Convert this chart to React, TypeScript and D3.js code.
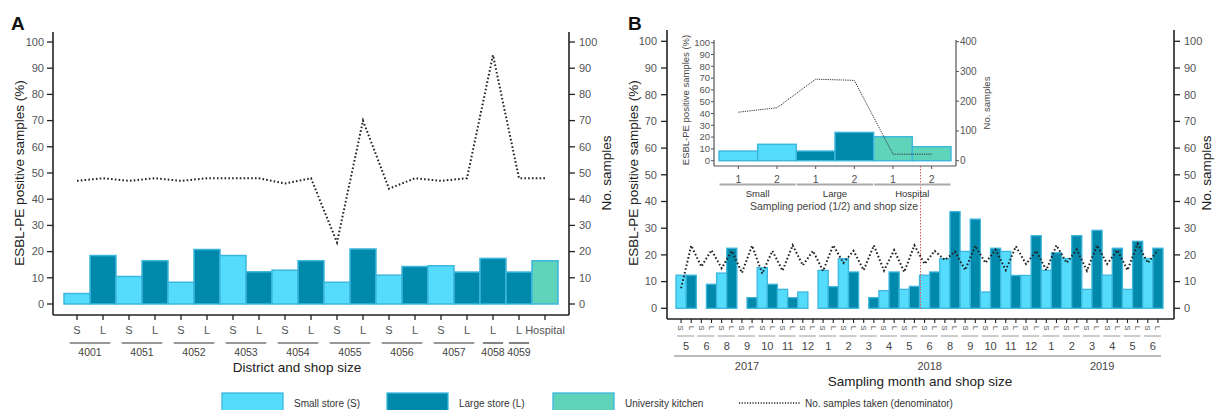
import React from "react";
import * as d3 from "d3";

const W = 1215;
const H = 410;
const FONT = "'Liberation Sans', Arial, Helvetica, sans-serif";

const LIGHT = "#55dcfd";
const DARK = "#0089ab";
const TEAL = "#5fd4bb";
const EDGE = "#3cb6dd";

// panel A: district and shop size
const aSizes = ["S", "L", "S", "L", "S", "L", "S", "L", "S", "L", "S", "L", "S", "L", "S", "L", "L", "L", "Hospital"];
const aDistricts = ["4001", "4001", "4051", "4051", "4052", "4052", "4053", "4053", "4054", "4054", "4055", "4055", "4056", "4056", "4057", "4057", "4058", "4059", ""];
const aPositive = [4, 18.5, 10.5, 16.5, 8.3, 20.8, 18.5, 12.3, 12.9, 16.5, 8.3, 21, 11, 14.3, 14.6, 12.2, 17.4, 12.2, 16.5];
const aSamples = [47, 48, 47, 48, 47, 48, 48, 48, 46, 48, 23.5, 70, 44, 48, 47, 48, 95, 48, 48];
const pctTicks = [0, 10, 20, 30, 40, 50, 60, 70, 80, 90, 100];

// panel B: sampling month, one S and one L per month
const bMonths = ["5", "6", "8", "9", "10", "11", "12", "1", "2", "3", "4", "5", "6", "8", "9", "10", "11", "12", "1", "2", "3", "4", "5", "6"];
const bYears = ["2017", "2017", "2017", "2017", "2017", "2017", "2017", "2018", "2018", "2018", "2018", "2018", "2018", "2018", "2018", "2018", "2018", "2018", "2019", "2019", "2019", "2019", "2019", "2019"];
const bSmall = [12.4, 0, 13.2, 0, 15.2, 7.1, 6.1, 14.2, 18.6, 0, 6.6, 7.1, 12.4, 18.6, 21.3, 6.1, 21.3, 12.3, 14.2, 18.6, 7.1, 12.4, 7.1, 18.6];
const bLarge = [12.4, 9, 22.5, 4, 9, 4, 0, 8.1, 13.6, 4, 13.6, 8.2, 13.6, 36.2, 33.4, 22.5, 12.3, 27.2, 20.8, 27.2, 29.2, 22.5, 25.1, 22.5];
const bSamples = [7.5, 23.5, 15.6, 21.8, 15, 21.5, 13.3, 23.5, 13, 21.5, 14.1, 23.6, 16.1, 21.5, 14, 23.6, 17, 21.5, 14.3, 23.6, 14.1, 21.8, 13.6, 23.6, 16.6, 21.5, 18.1, 21.2, 14.3, 23.4, 17, 22, 14.3, 23.2, 16.6, 21.5, 14.3, 23.6, 17, 22, 14.1, 23.6, 16.6, 21.8, 14.3, 24.2, 17, 21.8];

// inset: sampling period
const insetPeriods = ["1", "2", "1", "2", "1", "2"];
const insetGroups = ["Small", "Small", "Large", "Large", "Hospital", "Hospital"];
const insetPositive = [8.2, 13.9, 8.2, 24, 20.3, 11.9];
const insetSamples = [163, 178, 274, 270, 22, 22];
const insetSampleTicks = [0, 100, 200, 300, 400];

const runs = (arr: string[]) => {
  const out: { key: string; start: number; end: number }[] = [];
  arr.forEach((k, i) => {
    const last = out[out.length - 1];
    if (last && last.key === k) last.end = i;
    else out.push({ key: k, start: i, end: i });
  });
  return out;
};

const sizeColor = (s: string) => (s === "S" || s === "Small" ? LIGHT : s === "L" || s === "Large" ? DARK : TEAL);

const PanelA = () => {
  const x = d3.scaleBand<number>().domain(d3.range(aSizes.length)).range([64, 558]).padding(0);
  const y = d3.scaleLinear().domain([0, 100]).range([304, 42]);
  const y2 = d3.scaleLinear().domain([0, 100]).range([304, 42]);
  const bw = x.bandwidth();
  const line = d3.line<number>().x((d, i) => x(i)! + bw / 2).y((d) => y2(d));
  const left = 53, right = 569, bottom = 315, top = 32;
  return (
    <g>
      <text x={11} y={30} fontSize={19} fontWeight="bold" fill="#111">A</text>
      {aPositive.map((v, i) => (
        <rect key={i} x={x(i)} y={y(v)} width={bw} height={y(0) - y(v)} fill={sizeColor(aSizes[i])} stroke={EDGE} strokeWidth={1.5} />
      ))}
      <path d={line(aSamples) || ""} fill="none" stroke="#222" strokeWidth={2} strokeDasharray="1.6 2.2" />
      <line x1={left} x2={left} y1={top} y2={bottom} stroke="#222" strokeWidth={1.6} />
      <line x1={right} x2={right} y1={top} y2={bottom} stroke="#222" strokeWidth={1.6} />
      <line x1={left} x2={right} y1={bottom} y2={bottom} stroke="#222" strokeWidth={1.6} />
      {pctTicks.map((t) => (
        <g key={t}>
          <line x1={left - 6} x2={left} y1={y(t)} y2={y(t)} stroke="#222" strokeWidth={1.3} />
          <text x={left - 9} y={y(t)} dy="0.35em" textAnchor="end" fontSize={11} fill="#555">{t}</text>
          <line x1={right} x2={right + 6} y1={y2(t)} y2={y2(t)} stroke="#222" strokeWidth={1.3} />
          <text x={right + 10} y={y2(t)} dy="0.35em" fontSize={11} fill="#555">{t}</text>
        </g>
      ))}
      {aSizes.map((s, i) => (
        <g key={i}>
          <line x1={x(i)! + bw / 2} x2={x(i)! + bw / 2} y1={bottom} y2={bottom + 5} stroke="#222" strokeWidth={1.3} />
          <text x={x(i)! + bw / 2} y={330} dy="0.35em" textAnchor="middle" fontSize={11} fill="#555">{s}</text>
        </g>
      ))}
      {runs(aDistricts).filter((r) => r.key).map((r) => {
        const x0 = x(r.start)!, x1 = x(r.end)! + bw;
        const inset = (x1 - x0) * 0.11;
        return (
          <g key={r.key}>
            <line x1={x0 + inset} x2={x1 - inset} y1={343} y2={343} stroke="#333" strokeWidth={1.2} />
            <text x={(x0 + x1) / 2} y={352} dy="0.35em" textAnchor="middle" fontSize={10.5} fill="#444">{r.key}</text>
          </g>
        );
      })}
      <text x={297} y={367} dy="0.35em" textAnchor="middle" fontSize={13.5} fill="#222">District and shop size</text>
      <text transform="translate(19,173) rotate(-90)" dy="0.35em" textAnchor="middle" fontSize={13.5} fill="#222">ESBL-PE positive samples (%)</text>
      <text transform="translate(606,173) rotate(-90)" dy="0.35em" textAnchor="middle" fontSize={13.5} fill="#222">No. samples</text>
    </g>
  );
};

const Inset = () => {
  const x = d3.scaleBand<number>().domain(d3.range(insetPositive.length)).range([719, 951]).padding(0);
  const y = d3.scaleLinear().domain([0, 100]).range([160.7, 42.7]);
  const y2 = d3.scaleLinear().domain([0, 400]).range([160.7, 41.7]);
  const bw = x.bandwidth();
  const line = d3.line<number>().x((d, i) => x(i)! + bw / 2).y((d) => y2(d));
  const left = 714, right = 956, bottom = 166, top = 40;
  return (
    <g>
      {insetPositive.map((v, i) => (
        <rect key={i} x={x(i)} y={y(v)} width={bw} height={y(0) - y(v)} fill={sizeColor(insetGroups[i])} stroke={EDGE} strokeWidth={1.4} />
      ))}
      <path d={line(insetSamples) || ""} fill="none" stroke="#333" strokeWidth={1} strokeDasharray="1.2 1" />
      <line x1={left} x2={left} y1={top} y2={bottom} stroke="#555" strokeWidth={1.2} />
      <line x1={right} x2={right} y1={top} y2={bottom} stroke="#555" strokeWidth={1.2} />
      <line x1={left} x2={right} y1={bottom} y2={bottom} stroke="#555" strokeWidth={1.2} />
      {pctTicks.map((t) => (
        <g key={t}>
          <line x1={left - 3} x2={left} y1={y(t)} y2={y(t)} stroke="#555" />
          <text x={left - 4} y={y(t)} dy="0.35em" textAnchor="end" fontSize={9.5} fill="#555">{t}</text>
        </g>
      ))}
      {insetSampleTicks.map((t) => (
        <g key={t}>
          <line x1={right} x2={right + 3} y1={y2(t)} y2={y2(t)} stroke="#555" />
          <text x={right + 4} y={y2(t)} dy="0.35em" fontSize={10} fill="#555">{t}</text>
        </g>
      ))}
      {insetPeriods.map((p, i) => (
        <g key={i}>
          <line x1={x(i)! + bw / 2} x2={x(i)! + bw / 2} y1={bottom} y2={bottom + 3} stroke="#555" />
          <text x={x(i)! + bw / 2} y={179} dy="0.35em" textAnchor="middle" fontSize={10.5} fill="#555">{p}</text>
        </g>
      ))}
      {runs(insetGroups).map((r) => {
        const x0 = x(r.start)!, x1 = x(r.end)! + bw;
        return (
          <g key={r.key}>
            <line x1={x0 + 0.5} x2={x1 - 0.5} y1={184.5} y2={184.5} stroke="#aaa" strokeWidth={2.2} />
            <text x={(x0 + x1) / 2} y={194} dy="0.35em" textAnchor="middle" fontSize={9.5} fill="#333">{r.key}</text>
          </g>
        );
      })}
      <text x={834} y={206} dy="0.35em" textAnchor="middle" fontSize={10.5} fill="#444">Sampling period (1/2) and shop size</text>
      <text transform="translate(686,100) rotate(-90)" dy="0.35em" textAnchor="middle" fontSize={9.5} fill="#444">ESBL-PE positive samples (%)</text>
      <text transform="translate(987,103) rotate(-90)" dy="0.35em" textAnchor="middle" fontSize={9.5} fill="#444">No. samples</text>
    </g>
  );
};

const PanelB = () => {
  const sizes = bMonths.flatMap(() => ["S", "L"]);
  const values = bMonths.flatMap((m, i) => [bSmall[i], bLarge[i]]);
  const x = d3.scaleBand<number>().domain(d3.range(sizes.length)).range([676, 1163]).padding(0);
  const y = d3.scaleLinear().domain([0, 100]).range([308.3, 41.3]);
  const y2 = d3.scaleLinear().domain([0, 100]).range([308.3, 41.3]);
  const bw = x.bandwidth();
  const line = d3.line<number>().x((d, i) => x(i)! + bw / 2).y((d) => y2(d));
  const left = 667, right = 1174, bottom = 319, top = 30;
  const monthKeys = bMonths.map((m, i) => `${bYears[i]}-${m}`);
  return (
    <g>
      <text x={628} y={30} fontSize={19} fontWeight="bold" fill="#111">B</text>
      {values.map((v, i) =>
        v > 0 ? (
          <rect key={i} x={x(i)} y={y(v)} width={bw} height={y(0) - y(v)} fill={sizeColor(sizes[i])} stroke={EDGE} strokeWidth={1.3} />
        ) : null
      )}
      <path d={line(bSamples) || ""} fill="none" stroke="#222" strokeWidth={2} strokeDasharray="1.6 2.2" />
      <line x1={x(24)! + 1} x2={x(24)! + 1} y1={166} y2={y(0)} stroke="#e05a5a" strokeWidth={1} strokeDasharray="1.5 1.5" />
      <line x1={left} x2={left} y1={top} y2={bottom} stroke="#222" strokeWidth={1.6} />
      <line x1={right} x2={right} y1={top} y2={bottom} stroke="#222" strokeWidth={1.6} />
      <line x1={left} x2={right} y1={bottom} y2={bottom} stroke="#222" strokeWidth={1.6} />
      {pctTicks.map((t) => (
        <g key={t}>
          <line x1={left - 6} x2={left} y1={y(t)} y2={y(t)} stroke="#222" strokeWidth={1.3} />
          <text x={left - 10} y={y(t)} dy="0.35em" textAnchor="end" fontSize={11} fill="#555">{t}</text>
          <line x1={right} x2={right + 6} y1={y2(t)} y2={y2(t)} stroke="#222" strokeWidth={1.3} />
          <text x={right + 10} y={y2(t)} dy="0.35em" fontSize={11} fill="#555">{t}</text>
        </g>
      ))}
      {sizes.map((s, i) => (
        <g key={i}>
          <line x1={x(i)! + bw / 2} x2={x(i)! + bw / 2} y1={bottom} y2={bottom + 4} stroke="#222" strokeWidth={1.1} />
          <text transform={`translate(${x(i)! + bw / 2},${328}) rotate(90)`} dy="0.35em" textAnchor="middle" fontSize={7.5} fill="#555">{s}</text>
        </g>
      ))}
      {runs(monthKeys).map((r) => {
        const x0 = x(r.start * 2)!, x1 = x(r.end * 2 + 1)! + bw;
        return (
          <g key={r.key}>
            <line x1={x0 + 1} x2={x1 - 2} y1={336} y2={336} stroke="#999" strokeWidth={1} />
            <text x={(x0 + x1) / 2} y={346} dy="0.35em" textAnchor="middle" fontSize={11} fill="#444">{bMonths[r.start]}</text>
          </g>
        );
      })}
      {runs(bYears).map((r) => {
        const x0 = x(r.start * 2)!, x1 = x(r.end * 2 + 1)! + bw;
        return (
          <g key={r.key}>
            <line x1={x0 - 2} x2={x1 - 2} y1={356} y2={356} stroke="#777" strokeWidth={1} />
            <text x={(x0 + x1) / 2} y={366} dy="0.35em" textAnchor="middle" fontSize={11} fill="#444">{r.key}</text>
          </g>
        );
      })}
      <text x={920} y={381} dy="0.35em" textAnchor="middle" fontSize={13.5} fill="#222">Sampling month and shop size</text>
      <text transform="translate(633,173) rotate(-90)" dy="0.35em" textAnchor="middle" fontSize={13.5} fill="#222">ESBL-PE positive samples (%)</text>
      <text transform="translate(1206,173) rotate(-90)" dy="0.35em" textAnchor="middle" fontSize={13.5} fill="#222">No. samples</text>
      <Inset />
    </g>
  );
};

const legendItems = [
  { label: "Small store (S)", color: LIGHT, x: 222 },
  { label: "Large store (L)", color: DARK, x: 387 },
  { label: "University kitchen", color: TEAL, x: 553 },
];

const Legend = () => (
  <g>
    {legendItems.map((d) => (
      <g key={d.label}>
        <rect x={d.x} y={393} width={61} height={20} fill={d.color} stroke={EDGE} strokeWidth={1.3} />
        <text x={d.x + 72} y={403} dy="0.35em" fontSize={10} fill="#333">{d.label}</text>
      </g>
    ))}
    <line x1={739} x2={800} y1={403} y2={403} stroke="#222" strokeWidth={1.5} strokeDasharray="1.2 1.5" />
    <text x={805} y={403} dy="0.35em" fontSize={10} fill="#333">No. samples taken (denominator)</text>
  </g>
);

export default function App() {
  return (
    <svg width={W} height={H} style={{ position: "absolute", left: 0, top: 0, background: "#fff" }} fontFamily={FONT}>
      <rect width={W} height={H} fill="#fff" />
      <PanelA />
      <PanelB />
      <Legend />
    </svg>
  );
}
